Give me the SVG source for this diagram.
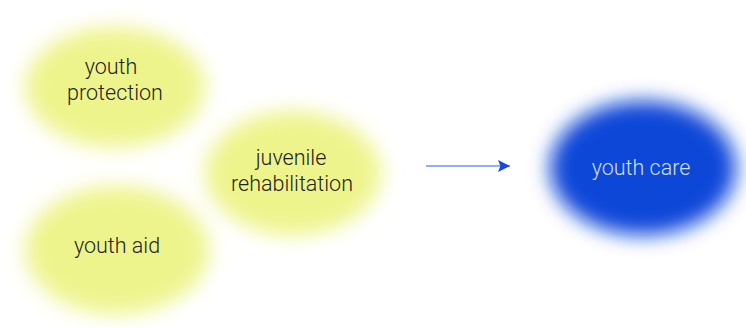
<svg xmlns="http://www.w3.org/2000/svg" width="746" height="328" viewBox="0 0 746 328">
  <style>
    .soft { filter: url(#soften); }
    .yellow { fill: #eef48c; }
    .blue { fill: #0a46d8; }
    .label { font-family: Roboto, "Liberation Sans", sans-serif; font-size: 21.5px; font-weight: 300; text-anchor: middle; fill: #222222; }
    .label.light { fill: #d6defa; }
    .edge { stroke: #2a5ff0; stroke-width: 1.2; fill: none; }
  </style>
  <defs>
    <filter id="soften" x="-30%" y="-30%" width="160%" height="160%">
      <feGaussianBlur stdDeviation="10"/>
    </filter>
    <marker id="head" viewBox="0 0 10 10" refX="10" refY="5" markerWidth="16" markerHeight="12" markerUnits="userSpaceOnUse" orient="auto">
      <path d="M0,0 L10,5 L0,10 L2,5 z" fill="#1448e0"/>
    </marker>
  </defs>
  <rect width="746" height="328" fill="#ffffff"/>

  <g id="youth-protection">
    <ellipse class="soft yellow" cx="115" cy="87" rx="90" ry="60"/>
    <text class="label" x="111" y="74">youth</text>
    <text class="label" x="115" y="100">protection</text>
  </g>

  <g id="youth-aid">
    <ellipse class="soft yellow" cx="117" cy="250" rx="92" ry="64"/>
    <text class="label" x="117" y="253">youth aid</text>
  </g>

  <g id="juvenile-rehabilitation">
    <ellipse class="soft yellow" cx="293" cy="173" rx="88" ry="62"/>
    <text class="label" x="291" y="165">juvenile</text>
    <text class="label" x="292" y="191">rehabilitation</text>
  </g>

  <g id="youth-care">
    <ellipse class="soft blue" cx="643" cy="168" rx="93" ry="67"/>
    <text class="label light" x="641" y="175">youth care</text>
  </g>

  <g id="connectors">
    <line class="edge" x1="426" y1="166" x2="510" y2="166" marker-end="url(#head)"/>
  </g>
</svg>
